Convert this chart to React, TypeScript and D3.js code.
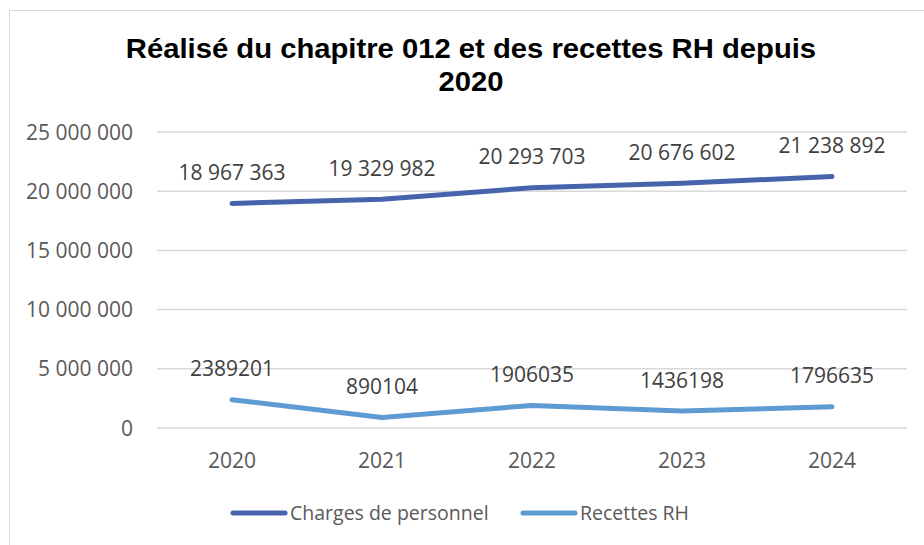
import React from "react";
import * as d3 from "d3";

const years = ["2020", "2021", "2022", "2023", "2024"];
const charges = [18967363, 19329982, 20293703, 20676602, 21238892];
const recettes = [2389201, 890104, 1906035, 1436198, 1796635];
const yTicks = [0, 5000000, 10000000, 15000000, 20000000, 25000000];
const chargesLabels = ["18 967 363", "19 329 982", "20 293 703", "20 676 602", "21 238 892"];
const recettesLabels = ["2389201", "890104", "1906035", "1436198", "1796635"];
const titleLines = ["Réalisé du chapitre 012 et des recettes RH depuis", "2020"];
const seriesNames = ["Charges de personnel", "Recettes RH"];

const W = 924;
const H = 545;
const FONT = "'Open Sans', sans-serif";
const NUM = 21;

export default function App() {
  const x = d3.scaleBand<string>().domain(years).range([157, 907]);
  const y = d3.scaleLinear().domain([0, 25000000]).range([428, 132]);
  const cx = (d: string) => (x(d) as number) + x.bandwidth() / 2;
  const line = d3
    .line<number>()
    .x((_, i) => cx(years[i]))
    .y((v) => y(v));
  const fmtTick = (v: number) =>
    v === 0 ? "0" : d3.format(",")(v).replace(/,/g, " ");

  const series = [
    { name: seriesNames[0], values: charges, labels: chargesLabels, color: "#4664AC" },
    { name: seriesNames[1], values: recettes, labels: recettesLabels, color: "#5F9BD3" },
  ];

  const legendItems = [
    { x: 233, textX: 290 },
    { x: 523, textX: 580 },
  ];

  return (
    <svg
      width={W}
      height={H}
      style={{ position: "absolute", left: 0, top: 0, background: "#fff" }}
    >
      <rect x={9.5} y={10.5} width={940} height={560} fill="#fff" stroke="#d9d9d9" strokeWidth={1} />
      <g fontFamily="'Liberation Sans', Arial, sans-serif" fontWeight="bold" fontSize={27} fill="#000" textAnchor="middle">
        {titleLines.map((t, i) => (
          <text key={i} transform={`translate(471, ${58 + i * 33}) scale(1.083, 1)`}>
            {t}
          </text>
        ))}
      </g>
      <g>
        {yTicks.map((t) => (
          <g key={t}>
            <line x1={157} x2={907} y1={y(t)} y2={y(t)} stroke="#d9d9d9" strokeWidth={1.5} />
            <text
              x={133}
              y={y(t)}
              dy="0.36em"
              textAnchor="end"
              fontFamily={FONT}
              fontSize={NUM}
              fill="#595959"
            >
              {fmtTick(t)}
            </text>
          </g>
        ))}
      </g>
      <g>
        {years.map((yr) => (
          <text
            key={yr}
            x={cx(yr)}
            y={460}
            dy="0.36em"
            textAnchor="middle"
            fontFamily={FONT}
            fontSize={NUM}
            fill="#595959"
          >
            {yr}
          </text>
        ))}
      </g>
      {series.map((s) => (
        <g key={s.name}>
          <path
            d={line(s.values) as string}
            fill="none"
            stroke={s.color}
            strokeWidth={5}
            strokeLinecap="round"
            strokeLinejoin="round"
          />
          {s.values.map((v, i) => (
            <text
              key={i}
              x={cx(years[i])}
              y={y(v) - 31}
              dy="0.36em"
              textAnchor="middle"
              fontFamily={FONT}
              fontSize={NUM}
              fill="#404040"
            >
              {s.labels[i]}
            </text>
          ))}
        </g>
      ))}
      <g>
        {series.map((s, i) => (
          <g key={s.name}>
            <line
              x1={legendItems[i].x}
              x2={legendItems[i].x + 52}
              y1={513}
              y2={513}
              stroke={s.color}
              strokeWidth={5}
              strokeLinecap="round"
            />
            <text
              x={legendItems[i].textX}
              y={513}
              dy="0.36em"
              fontFamily={FONT}
              fontSize={19.5}
              fill="#595959"
            >
              {s.name}
            </text>
          </g>
        ))}
      </g>
    </svg>
  );
}
